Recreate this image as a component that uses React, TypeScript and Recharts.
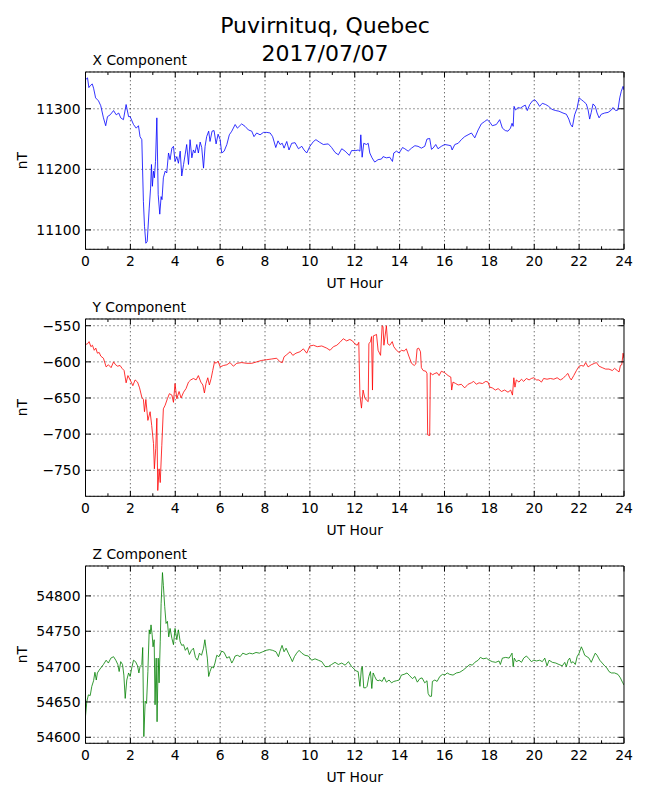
import React from 'react';
import { CartesianGrid, Label, Line, LineChart, ReferenceLine, XAxis, YAxis } from 'recharts';

// hour ticks: labels on even hours, short ticks on odd ones
const hourTicks = [0, 1, 2, 3, 4, 5, 6, 7, 8, 9, 10, 11, 12, 13, 14, 15, 16, 17, 18, 19, 20, 21, 22, 23, 24];
const gridHours = [2, 4, 6, 8, 10, 12, 14, 16, 18, 20, 22];

const xTicks = [11100, 11200, 11300];
const yTicks = [-750, -700, -650, -600, -550];
const zTicks = [54600, 54650, 54700, 54750, 54800];

// [UT hour, nT]
const xComponent: [number, number][] = [
  [0, 11348], [0.09, 11351], [0.15, 11335], [0.21, 11338], [0.3, 11341], [0.36, 11334], [0.45, 11318], [0.58, 11313],
  [0.68, 11305], [0.8, 11285], [0.9, 11272], [0.98, 11287], [1.1, 11290], [1.25, 11297], [1.37, 11290], [1.48, 11293],
  [1.57, 11285], [1.69, 11282], [1.81, 11307], [1.92, 11287], [1.99, 11287], [2.14, 11274], [2.26, 11268], [2.36, 11272],
  [2.43, 11254], [2.51, 11249], [2.58, 11147], [2.63, 11106], [2.69, 11078], [2.75, 11081], [2.84, 11136], [2.9, 11169],
  [2.94, 11208], [2.98, 11172], [3.03, 11197], [3.07, 11186], [3.12, 11213], [3.18, 11285], [3.24, 11158], [3.31, 11126],
  [3.37, 11155], [3.41, 11150], [3.47, 11186], [3.55, 11197], [3.62, 11194], [3.7, 11227], [3.77, 11216], [3.85, 11235],
  [3.92, 11238], [3.99, 11213], [4.07, 11221], [4.14, 11210], [4.22, 11230], [4.29, 11189], [4.37, 11208], [4.44, 11224],
  [4.51, 11241], [4.59, 11208], [4.66, 11249], [4.74, 11219], [4.81, 11232], [4.88, 11227], [4.96, 11241], [5.03, 11227],
  [5.11, 11245], [5.18, 11236], [5.26, 11202], [5.33, 11238], [5.4, 11254], [5.49, 11263], [5.55, 11246], [5.64, 11263],
  [5.73, 11264], [5.82, 11242], [5.91, 11258], [6.0, 11249], [6.07, 11227], [6.18, 11230], [6.3, 11241], [6.41, 11257],
  [6.52, 11263], [6.67, 11274], [6.77, 11268], [6.96, 11275], [7.11, 11271], [7.26, 11265], [7.41, 11263], [7.51, 11254],
  [7.63, 11260], [7.78, 11257], [7.93, 11261], [8.08, 11261], [8.23, 11260], [8.34, 11254], [8.48, 11236], [8.58, 11247],
  [8.67, 11241], [8.77, 11243], [8.85, 11235], [8.97, 11246], [9.07, 11232], [9.19, 11243], [9.34, 11244], [9.49, 11234],
  [9.64, 11238], [9.74, 11232], [9.86, 11227], [10.0, 11238], [10.16, 11246], [10.27, 11249], [10.42, 11245], [10.6, 11241],
  [10.82, 11242], [10.97, 11236], [11.12, 11228], [11.27, 11224], [11.42, 11234], [11.57, 11230], [11.76, 11223], [11.86, 11231],
  [12.05, 11231], [12.15, 11232], [12.23, 11230], [12.27, 11257], [12.33, 11220], [12.4, 11243], [12.52, 11241], [12.6, 11243],
  [12.67, 11227], [12.77, 11219], [12.89, 11212], [13.04, 11216], [13.19, 11217], [13.26, 11221], [13.41, 11219], [13.56, 11220],
  [13.68, 11213], [13.74, 11227], [13.86, 11230], [13.98, 11227], [14.13, 11236], [14.23, 11234], [14.38, 11230], [14.53, 11235],
  [14.68, 11239], [14.82, 11238], [14.97, 11235], [15.12, 11238], [15.22, 11250], [15.34, 11251], [15.42, 11233], [15.49, 11235],
  [15.61, 11241], [15.71, 11234], [15.86, 11238], [16.01, 11241], [16.16, 11240], [16.28, 11239], [16.34, 11232], [16.46, 11241],
  [16.61, 11243], [16.75, 11249], [16.9, 11254], [17.05, 11257], [17.2, 11260], [17.35, 11252], [17.5, 11265], [17.64, 11275],
  [17.79, 11279], [17.9, 11282], [18.02, 11278], [18.13, 11272], [18.31, 11274], [18.46, 11282], [18.58, 11268], [18.71, 11264],
  [18.83, 11263], [18.94, 11268], [19.01, 11276], [19.06, 11271], [19.1, 11304], [19.17, 11298], [19.28, 11302], [19.38, 11301],
  [19.5, 11304], [19.6, 11306], [19.69, 11297], [19.8, 11307], [19.92, 11313], [20.02, 11315], [20.12, 11311], [20.24, 11304],
  [20.36, 11309], [20.51, 11307], [20.64, 11304], [20.79, 11299], [20.96, 11297], [21.1, 11296], [21.28, 11293], [21.43, 11291],
  [21.54, 11283], [21.62, 11274], [21.7, 11270], [21.8, 11290], [21.91, 11301], [22.0, 11318], [22.1, 11315], [22.2, 11312],
  [22.32, 11308], [22.4, 11298], [22.47, 11283], [22.54, 11294], [22.62, 11308], [22.72, 11304], [22.8, 11293], [22.89, 11285],
  [22.99, 11291], [23.14, 11293], [23.29, 11294], [23.44, 11298], [23.51, 11302], [23.63, 11297], [23.73, 11298], [23.81, 11318],
  [23.88, 11329], [23.96, 11337], [24.0, 11331],
];

const yComponent: [number, number][] = [
  [0, -576], [0.09, -575], [0.16, -572], [0.24, -579], [0.31, -577], [0.39, -584], [0.46, -581], [0.53, -588],
  [0.61, -587], [0.68, -592], [0.8, -595], [0.92, -607], [1.02, -604], [1.14, -608], [1.25, -600], [1.34, -604],
  [1.43, -606], [1.54, -605], [1.63, -609], [1.72, -612], [1.81, -629], [1.89, -619], [1.99, -625], [2.11, -633],
  [2.21, -625], [2.32, -628], [2.41, -636], [2.51, -649], [2.58, -652], [2.63, -669], [2.69, -652], [2.78, -681],
  [2.88, -669], [2.95, -688], [3.03, -713], [3.07, -748], [3.13, -720], [3.18, -678], [3.22, -778], [3.28, -748],
  [3.33, -767], [3.4, -716], [3.47, -665], [3.55, -660], [3.65, -651], [3.74, -644], [3.85, -646], [3.92, -656],
  [3.99, -630], [4.07, -651], [4.17, -641], [4.26, -650], [4.37, -642], [4.48, -637], [4.59, -628], [4.69, -625],
  [4.81, -623], [4.93, -625], [5.03, -619], [5.14, -628], [5.23, -632], [5.3, -643], [5.37, -630], [5.45, -622],
  [5.52, -632], [5.6, -623], [5.67, -612], [5.75, -600], [5.82, -602], [5.91, -599], [6.0, -607], [6.15, -605],
  [6.3, -604], [6.44, -601], [6.59, -606], [6.74, -602], [6.96, -601], [7.19, -602], [7.41, -602], [7.63, -600],
  [7.85, -598], [8.08, -597], [8.3, -596], [8.52, -595], [8.67, -600], [8.77, -601], [8.85, -593], [8.97, -590],
  [9.12, -586], [9.24, -591], [9.38, -588], [9.56, -586], [9.71, -582], [9.86, -588], [10.0, -578], [10.16, -577],
  [10.33, -579], [10.53, -578], [10.75, -581], [10.9, -584], [11.05, -579], [11.2, -577], [11.34, -573], [11.49, -568],
  [11.64, -571], [11.78, -569], [11.9, -571], [12.0, -575], [12.11, -577], [12.18, -573], [12.23, -646], [12.3, -664],
  [12.37, -639], [12.45, -650], [12.52, -653], [12.6, -655], [12.63, -575], [12.7, -572], [12.75, -565], [12.79, -639],
  [12.83, -564], [12.91, -563], [12.97, -562], [13.04, -584], [13.15, -591], [13.22, -550], [13.26, -551], [13.3, -577],
  [13.41, -550], [13.47, -575], [13.56, -577], [13.67, -572], [13.74, -579], [13.86, -584], [13.98, -587], [14.08, -584],
  [14.2, -585], [14.3, -582], [14.41, -592], [14.53, -602], [14.65, -605], [14.72, -603], [14.78, -582], [14.85, -581],
  [14.93, -586], [14.97, -608], [15.05, -612], [15.17, -613], [15.22, -616], [15.25, -701], [15.34, -702], [15.37, -615],
  [15.46, -618], [15.57, -616], [15.67, -615], [15.76, -619], [15.86, -613], [16.01, -615], [16.16, -619], [16.28, -621],
  [16.32, -639], [16.38, -628], [16.5, -630], [16.61, -632], [16.75, -631], [16.9, -636], [17.05, -631], [17.2, -629],
  [17.3, -627], [17.42, -631], [17.54, -629], [17.69, -630], [17.84, -627], [17.94, -628], [18.02, -635], [18.13, -636],
  [18.27, -639], [18.39, -637], [18.54, -641], [18.68, -639], [18.83, -642], [18.95, -639], [19.03, -646], [19.09, -622],
  [19.14, -635], [19.2, -625], [19.32, -628], [19.43, -624], [19.53, -627], [19.65, -623], [19.77, -625], [19.87, -623],
  [19.98, -622], [20.1, -625], [20.21, -625], [20.32, -628], [20.42, -623], [20.57, -624], [20.72, -623], [20.87, -624],
  [21.02, -622], [21.16, -625], [21.28, -623], [21.4, -619], [21.5, -616], [21.58, -622], [21.65, -625], [21.76, -619],
  [21.88, -612], [22.0, -606], [22.1, -605], [22.2, -606], [22.29, -601], [22.4, -607], [22.54, -604], [22.69, -602],
  [22.77, -601], [22.89, -606], [23.03, -608], [23.18, -610], [23.33, -610], [23.48, -612], [23.58, -609], [23.7, -612],
  [23.78, -614], [23.84, -605], [23.9, -604], [23.96, -588], [24.0, -595],
];

const zComponent: [number, number][] = [
  [0, 54630], [0.06, 54651], [0.13, 54660], [0.21, 54659], [0.28, 54672], [0.36, 54680], [0.42, 54692], [0.48, 54681],
  [0.53, 54691], [0.61, 54695], [0.68, 54698], [0.8, 54703], [0.92, 54709], [1.02, 54705], [1.13, 54712], [1.25, 54714],
  [1.35, 54709], [1.44, 54703], [1.5, 54693], [1.57, 54707], [1.65, 54703], [1.71, 54688], [1.77, 54655], [1.84, 54681],
  [1.92, 54691], [1.99, 54686], [2.06, 54698], [2.14, 54709], [2.23, 54707], [2.32, 54701], [2.38, 54691], [2.43, 54700],
  [2.51, 54703], [2.55, 54727], [2.6, 54601], [2.66, 54651], [2.72, 54648], [2.78, 54693], [2.84, 54752], [2.88, 54746],
  [2.92, 54759], [2.97, 54745], [3.01, 54728], [3.06, 54738], [3.1, 54646], [3.15, 54712], [3.19, 54622], [3.24, 54712],
  [3.28, 54677], [3.33, 54735], [3.37, 54789], [3.43, 54833], [3.47, 54815], [3.53, 54785], [3.59, 54761], [3.65, 54764],
  [3.71, 54742], [3.77, 54754], [3.85, 54740], [3.92, 54731], [3.99, 54754], [4.07, 54738], [4.14, 54752], [4.22, 54735],
  [4.29, 54730], [4.37, 54731], [4.45, 54723], [4.54, 54727], [4.63, 54717], [4.72, 54723], [4.81, 54726], [4.9, 54713],
  [4.99, 54709], [5.08, 54719], [5.17, 54716], [5.26, 54726], [5.32, 54738], [5.37, 54726], [5.43, 54712], [5.49, 54686],
  [5.55, 54693], [5.63, 54700], [5.7, 54698], [5.77, 54705], [5.85, 54716], [5.95, 54714], [6.07, 54722], [6.18, 54720],
  [6.3, 54712], [6.41, 54714], [6.52, 54705], [6.59, 54709], [6.67, 54715], [6.77, 54716], [6.89, 54714], [7.01, 54719],
  [7.16, 54717], [7.31, 54719], [7.45, 54718], [7.6, 54720], [7.75, 54719], [7.9, 54721], [8.05, 54723], [8.2, 54724],
  [8.34, 54723], [8.49, 54721], [8.6, 54714], [8.67, 54722], [8.76, 54730], [8.85, 54721], [8.94, 54726], [9.04, 54719],
  [9.15, 54712], [9.22, 54707], [9.31, 54714], [9.41, 54719], [9.52, 54723], [9.64, 54719], [9.78, 54716], [9.93, 54715],
  [10.08, 54709], [10.23, 54711], [10.38, 54709], [10.53, 54707], [10.68, 54700], [10.82, 54700], [10.97, 54703], [11.12, 54706],
  [11.27, 54703], [11.42, 54705], [11.57, 54702], [11.72, 54707], [11.86, 54700], [11.93, 54698], [12.05, 54694], [12.15, 54693],
  [12.23, 54672], [12.3, 54698], [12.34, 54700], [12.4, 54670], [12.49, 54670], [12.55, 54672], [12.63, 54686], [12.7, 54693],
  [12.76, 54669], [12.82, 54691], [12.89, 54686], [12.97, 54681], [13.04, 54680], [13.12, 54681], [13.22, 54679], [13.31, 54685],
  [13.41, 54678], [13.53, 54681], [13.64, 54677], [13.74, 54679], [13.86, 54680], [13.98, 54681], [14.08, 54688], [14.2, 54689],
  [14.33, 54691], [14.45, 54687], [14.57, 54683], [14.68, 54686], [14.79, 54678], [14.9, 54683], [15.0, 54684], [15.12, 54677],
  [15.22, 54680], [15.27, 54662], [15.34, 54658], [15.42, 54658], [15.46, 54679], [15.57, 54681], [15.67, 54679], [15.79, 54686],
  [15.91, 54689], [16.01, 54688], [16.12, 54691], [16.23, 54689], [16.38, 54688], [16.53, 54691], [16.68, 54692], [16.83, 54695],
  [16.98, 54699], [17.13, 54703], [17.24, 54702], [17.35, 54706], [17.5, 54709], [17.6, 54713], [17.72, 54711], [17.87, 54712],
  [17.99, 54709], [18.13, 54707], [18.28, 54706], [18.43, 54708], [18.49, 54703], [18.58, 54712], [18.73, 54713], [18.88, 54712],
  [19.01, 54719], [19.06, 54700], [19.11, 54712], [19.2, 54707], [19.32, 54709], [19.43, 54706], [19.53, 54712], [19.65, 54715],
  [19.77, 54711], [19.87, 54707], [19.98, 54709], [20.1, 54708], [20.24, 54709], [20.36, 54707], [20.47, 54712], [20.57, 54701],
  [20.66, 54709], [20.81, 54706], [20.96, 54705], [21.1, 54703], [21.25, 54701], [21.36, 54706], [21.43, 54700], [21.51, 54709],
  [21.58, 54712], [21.65, 54705], [21.73, 54707], [21.83, 54703], [21.91, 54714], [22.0, 54719], [22.1, 54728], [22.17, 54723],
  [22.25, 54716], [22.35, 54714], [22.44, 54712], [22.54, 54706], [22.62, 54712], [22.72, 54719], [22.8, 54716], [22.92, 54709],
  [23.03, 54705], [23.14, 54701], [23.24, 54698], [23.33, 54693], [23.44, 54691], [23.58, 54691], [23.73, 54689], [23.84, 54684],
  [23.93, 54678], [24.0, 54674],
];

const FONT = 'DejaVu Sans';
const LABEL_SIZE = 13.9;
const PLOT_H = 177.3;
const TOP_PAD = 30;
const AXIS_H = 50;

const panels = [
  { title: 'X Component', points: xComponent, color: '#0000ff', domain: [11068, 11360.7], ticks: xTicks, top: 72.3 },
  { title: 'Y Component', points: yComponent, color: '#ff0000', domain: [-786, -540.7], ticks: yTicks, top: 319.3 },
  { title: 'Z Component', points: zComponent, color: '#008000', domain: [54591.5, 54842.3], ticks: zTicks, top: 566.3 },
];

const fmt = (v: number) => String(v).replace('-', '\u2212');

const BottomTick = (props: any) => {
  const { x, y, payload } = props;
  const major = payload.value % 2 === 0;
  return (
    <g>
      <line x1={x} y1={y} x2={x} y2={y - (major ? 5.5 : 3)} stroke="#000" strokeWidth={1} />
      {major && (
        <text x={x} y={y + 17} textAnchor="middle" fontSize={LABEL_SIZE} fontFamily={FONT} fill="#000">
          {payload.value}
        </text>
      )}
    </g>
  );
};

const TopTick = (props: any) => {
  const { x, y, payload } = props;
  const major = payload.value % 2 === 0;
  return <line x1={x} y1={y} x2={x} y2={y + (major ? 5.5 : 3)} stroke="#000" strokeWidth={1} />;
};

const LeftTick = (props: any) => {
  const { x, y, payload } = props;
  return (
    <g>
      <line x1={x} y1={y} x2={x + 5.5} y2={y} stroke="#000" strokeWidth={1} />
      <text x={x - 5} y={y + 5} textAnchor="end" fontSize={LABEL_SIZE} fontFamily={FONT} fill="#000">
        {fmt(payload.value)}
      </text>
    </g>
  );
};

const RightTick = (props: any) => {
  const { x, y } = props;
  return <line x1={x} y1={y} x2={x - 5.5} y2={y} stroke="#000" strokeWidth={1} />;
};

// top axis box is 1px tall, so the plot starts at viewBox.y + 1
const panelTitle = (title: string) => (props: any) => {
  const { x, y } = props.viewBox;
  return (
    <text x={x + 7} y={y + 1 - 7.3} fontSize={LABEL_SIZE} fontFamily={FONT} fill="#000">
      {title}
    </text>
  );
};

const yLabel = (props: any) => {
  const { x, y, height } = props.viewBox;
  const cx = x + 22;
  const cy = y + height / 2;
  return (
    <text
      x={cx}
      y={cy + 5}
      transform={`rotate(-90 ${cx} ${cy})`}
      textAnchor="middle"
      fontSize={LABEL_SIZE}
      fontFamily={FONT}
      fill="#000"
    >
      nT
    </text>
  );
};

const xLabel = (props: any) => {
  const { x, y, width } = props.viewBox;
  return (
    <text x={x + width / 2} y={y + 38.4} textAnchor="middle" fontSize={LABEL_SIZE} fontFamily={FONT} fill="#000">
      UT Hour
    </text>
  );
};

const Panel = ({ panel }: { panel: (typeof panels)[number] }) => {
  const data = panel.points.map(([t, v]) => ({ t, v }));
  return (
    <div style={{ position: 'absolute', left: 0, top: panel.top - TOP_PAD }}>
      <LineChart
        width={650}
        height={TOP_PAD + PLOT_H + AXIS_H}
        data={data}
        margin={{ top: TOP_PAD - 1, right: 25, bottom: 0, left: 0 }}
      >
        <CartesianGrid vertical={false} stroke="#000" strokeDasharray="1 3" strokeWidth={0.8} />
        {gridHours.map((h) => (
          <ReferenceLine key={h} x={h} stroke="#000" strokeDasharray="1 3" strokeWidth={0.8} />
        ))}
        <XAxis
          dataKey="t"
          type="number"
          domain={[0, 24]}
          ticks={hourTicks}
          interval={0}
          allowDataOverflow
          height={AXIS_H}
          tickSize={0}
          tickMargin={0}
          tick={BottomTick}
          axisLine={{ stroke: '#000', strokeWidth: 1 }}
        >
          <Label content={xLabel} />
        </XAxis>
        <XAxis
          xAxisId="top"
          orientation="top"
          dataKey="t"
          type="number"
          domain={[0, 24]}
          ticks={hourTicks}
          interval={0}
          allowDataOverflow
          height={1}
          tickSize={0}
          tickMargin={0}
          tick={TopTick}
          axisLine={{ stroke: '#000', strokeWidth: 1 }}
        >
          <Label content={panelTitle(panel.title)} />
        </XAxis>
        <YAxis
          type="number"
          domain={panel.domain}
          ticks={panel.ticks}
          interval={0}
          allowDataOverflow
          width={85.5}
          tickSize={0}
          tickMargin={0}
          tick={LeftTick}
          axisLine={{ stroke: '#000', strokeWidth: 1 }}
        >
          <Label content={yLabel} />
        </YAxis>
        <YAxis
          yAxisId="right"
          orientation="right"
          type="number"
          domain={panel.domain}
          ticks={panel.ticks}
          interval={0}
          allowDataOverflow
          width={1}
          tickSize={0}
          tickMargin={0}
          tick={RightTick}
          axisLine={{ stroke: '#000', strokeWidth: 1 }}
        />
        <Line
          type="linear"
          dataKey="v"
          stroke={panel.color}
          strokeWidth={0.8}
          dot={false}
          activeDot={false}
          isAnimationActive={false}
        />
      </LineChart>
    </div>
  );
};

export default function App() {
  return (
    <div
      style={{
        position: 'absolute',
        left: 0,
        top: 0,
        width: 650,
        height: 800,
        background: '#fff',
        fontFamily: FONT,
      }}
    >
      <svg width={650} height={70} style={{ position: 'absolute', left: 0, top: 0 }}>
        <text x={325} y={33.3} textAnchor="middle" fontSize={22} fontFamily={FONT} fill="#000">
          Puvirnituq, Quebec
        </text>
        <text x={325} y={61} textAnchor="middle" fontSize={22} fontFamily={FONT} fill="#000">
          2017/07/07
        </text>
      </svg>
      {panels.map((p) => (
        <Panel key={p.title} panel={p} />
      ))}
    </div>
  );
}
